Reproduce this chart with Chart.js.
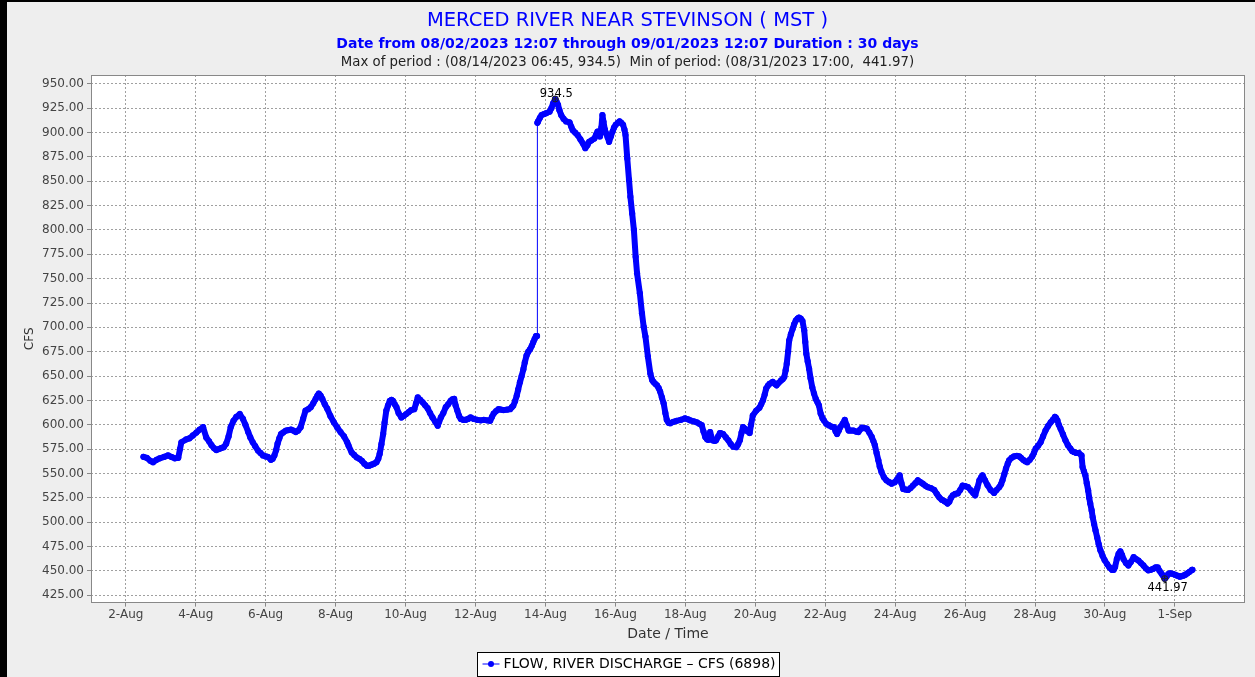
<!DOCTYPE html>
<html>
<head>
<meta charset="utf-8">
<script src="https://cdn.jsdelivr.net/npm/chart.js@4.4.0/dist/chart.umd.min.js"></script>
<style>
  html, body { margin: 0; padding: 0; background: #eeeeee; overflow: hidden; }
  #flowChart { display: block; }
</style>
</head>
<body>
<canvas id="flowChart" width="1255" height="677"></canvas>
<script>
const chartTitle = 'MERCED RIVER NEAR STEVINSON ( MST )';
const chartSubtitle = 'Date from 08/02/2023 12:07 through 09/01/2023 12:07 Duration : 30 days';
const chartStats = 'Max of period : (08/14/2023 06:45, 934.5)  Min of period: (08/31/2023 17:00,  441.97)';
const seriesLabel = 'FLOW, RIVER DISCHARGE \u2013 CFS (6898)';

// time of each reading, in days since 08/01/2023 00:00
const flowDays = [
  1.505, 1.6, 1.7, 1.78, 1.88, 1.97, 2.1, 2.21, 2.3, 2.4, 2.5, 2.55, 2.59, 2.73, 2.82, 2.92, 3.02, 3.11, 3.21, 3.3,
  3.38, 3.45, 3.52, 3.59, 3.66, 3.73, 3.8, 3.87, 3.94, 4.0, 4.08, 4.16, 4.26, 4.35, 4.42, 4.5, 4.56, 4.63, 4.7, 4.78,
  4.85, 4.92, 5.0, 5.06, 5.15, 5.2, 5.25, 5.3, 5.34, 5.39, 5.44, 5.5, 5.58, 5.65, 5.72, 5.79, 5.86, 5.93, 6.0, 6.07,
  6.14, 6.22, 6.29, 6.36, 6.43, 6.48, 6.52, 6.57, 6.62, 6.69, 6.76, 6.85, 6.95, 7.05, 7.14, 7.24, 7.33, 7.37, 7.46, 7.53,
  7.6, 7.68, 7.75, 7.82, 7.89, 7.96, 8.03, 8.1, 8.17, 8.22, 8.26, 8.31, 8.36, 8.4, 8.45, 8.5, 8.55, 8.6, 8.64, 8.69,
  8.74, 8.8, 8.88, 8.95, 9.02, 9.09, 9.16, 9.25, 9.3, 9.35, 9.42, 9.49, 9.56, 9.63, 9.7, 9.77, 9.85, 9.92, 9.96, 10.01,
  10.08, 10.15, 10.22, 10.29, 10.34, 10.39, 10.43, 10.48, 10.53, 10.58, 10.65, 10.72, 10.79, 10.86, 10.95, 11.05, 11.15, 11.24, 11.33, 11.42,
  11.47, 11.52, 11.59, 11.66, 11.73, 11.8, 11.9, 11.99, 12.04, 12.08, 12.13, 12.18, 12.22, 12.27, 12.32, 12.37, 12.41, 12.46, 12.51, 12.56,
  12.61, 12.65, 12.69, 12.73, 12.76, 12.77, 12.79, 12.84, 12.89, 12.96, 13.03, 13.12, 13.17, 13.22, 13.281, 13.32, 13.36, 13.4, 13.45, 13.52,
  13.59, 13.69, 13.74, 13.78, 13.85, 13.92, 14.0, 14.07, 14.14, 14.2, 14.25, 14.32, 14.4, 14.45, 14.49, 14.53, 14.56, 14.6, 14.63, 14.66,
  14.7, 14.73, 14.78, 14.82, 14.87, 14.92, 14.96, 15.01, 15.07, 15.12, 15.17, 15.22, 15.26, 15.29, 15.34, 15.39, 15.43, 15.48, 15.53, 15.58,
  15.62, 15.7, 15.76, 15.81, 15.86, 15.93, 16.0, 16.05, 16.09, 16.14, 16.19, 16.24, 16.28, 16.33, 16.38, 16.43, 16.47, 16.52, 16.57, 16.66,
  16.75, 16.87, 16.99, 17.08, 17.14, 17.24, 17.33, 17.4, 17.47, 17.52, 17.57, 17.62, 17.66, 17.71, 17.78, 17.84, 17.88, 17.94, 17.99, 18.04,
  18.08, 18.16, 18.23, 18.3, 18.37, 18.46, 18.51, 18.56, 18.61, 18.65, 18.7, 18.75, 18.84, 18.88, 18.93, 19.03, 19.12, 19.17, 19.22, 19.27,
  19.31, 19.36, 19.41, 19.5, 19.56, 19.61, 19.67, 19.74, 19.79, 19.83, 19.87, 19.9, 19.94, 19.97, 20.02, 20.07, 20.11, 20.16, 20.21, 20.25,
  20.3, 20.35, 20.4, 20.43, 20.46, 20.5, 20.54, 20.58, 20.63, 20.68, 20.73, 20.78, 20.82, 20.87, 20.92, 20.96, 21.03, 21.1, 21.18, 21.25,
  21.3, 21.34, 21.39, 21.43, 21.5, 21.56, 21.62, 21.67, 21.74, 21.81, 21.88, 21.95, 22.0, 22.05, 22.12, 22.19, 22.26, 22.33, 22.38, 22.42,
  22.47, 22.52, 22.56, 22.61, 22.68, 22.75, 22.83, 22.9, 22.99, 23.06, 23.13, 23.18, 23.23, 23.3, 23.37, 23.44, 23.51, 23.58, 23.65, 23.72,
  23.79, 23.86, 23.93, 24.02, 24.12, 24.19, 24.26, 24.33, 24.41, 24.5, 24.55, 24.6, 24.65, 24.72, 24.79, 24.86, 24.93, 25.0, 25.08, 25.17,
  25.23, 25.29, 25.35, 25.41, 25.46, 25.5, 25.57, 25.64, 25.73, 25.83, 25.9, 25.98, 26.03, 26.07, 26.12, 26.17, 26.22, 26.26, 26.33, 26.4,
  26.48, 26.55, 26.6, 26.66, 26.72, 26.78, 26.85, 26.92, 26.97, 27.02, 27.09, 27.16, 27.23, 27.3, 27.37, 27.45, 27.51, 27.57, 27.6, 27.64,
  27.68, 27.73, 27.8, 27.87, 27.94, 28.01, 28.06, 28.11, 28.18, 28.25, 28.33, 28.36, 28.4, 28.44, 28.48, 28.52, 28.55, 28.58, 28.62, 28.65,
  28.69, 28.73, 28.78, 28.82, 28.87, 28.93, 28.99, 29.06, 29.13, 29.2, 29.25, 29.29, 29.34, 29.39, 29.44, 29.49, 29.53, 29.6, 29.67, 29.74,
  29.82, 29.89, 29.96, 30.03, 30.1, 30.17, 30.24, 30.31, 30.38, 30.45, 30.51, 30.56, 30.62, 30.67, 30.708, 30.76, 30.81, 30.86, 30.93, 31.0,
  31.07, 31.14, 31.19, 31.24, 31.3, 31.36, 31.42, 31.49, 31.505
];

const flowCfs = [
  567, 566, 563, 561.5, 564, 565.5, 567, 568.5, 567, 565.5, 566, 575, 582, 585, 586, 589, 592, 595, 597.5, 587,
  583, 579, 576, 574, 575, 576, 577, 580.5, 588, 597.5, 604, 608, 611, 606, 600, 592.5, 587, 582, 578, 573.5,
  571, 568.5, 567.5, 567, 564, 565, 568.5, 574, 580.5, 586, 590.5, 592, 594, 594.5, 595, 594, 592.5, 594, 597.5, 606,
  614.5, 616, 618, 622, 626.5, 630, 632, 630, 626.5, 621, 616.5, 609, 602.5, 597, 592.5, 588, 582, 578.5, 571.5, 569,
  566.5, 565, 563, 560, 558, 558, 559, 560, 561.5, 565, 570, 580, 590.5, 602, 614.5, 620, 624.5, 625.5, 624.5, 621,
  618, 612, 607.5, 609, 611, 613, 615, 616, 622, 628, 625.5, 623, 620, 617, 612, 607.5, 603, 599, 603, 607.5,
  612, 618, 621, 624.5, 626, 626.5, 620, 614.5, 609, 606, 605, 605, 606, 607.5, 606, 605, 604.5, 605, 604.5, 604,
  608, 611.5, 614, 616, 615.5, 615, 615.5, 616, 618, 619.5, 624, 630, 636, 643.5, 650, 657, 664, 671, 675, 677.5,
  681, 684.5, 688, 691, 691, 910, 911.5, 915, 918, 919, 920, 921.5, 925, 930, 934.5, 931.5, 928.5, 923, 918, 914,
  911.5, 910.5, 906, 902.5, 900, 897.5, 893, 889, 884, 887, 890.5, 892, 894, 898, 901, 898, 896, 905, 918, 911,
  903, 899.5, 895, 890.5, 896, 901, 905, 908, 910, 911.5, 910, 908, 903, 897.5, 873.5, 851.5, 834, 817, 800, 772.5,
  755.5, 735, 714.5, 700.5, 690.5, 670, 652.5, 646, 644, 642, 640.5, 637.5, 634, 628, 622, 612, 605, 602, 601.5, 603,
  604, 605, 606.5, 605.5, 604.5, 603.5, 602.5, 601, 599.5, 593, 587.5, 585, 584.5, 592.5, 584, 583.5, 584, 588, 591.5, 591,
  590.5, 587, 584, 580, 577.5, 577, 580, 584, 592, 597.5, 596, 594, 591.5, 600, 609.5, 614.5, 617.5, 621, 625, 631,
  637, 640, 642, 644, 642, 640.5, 643, 645.5, 647, 649, 656, 662.5, 675, 686.5, 693, 698.5, 703, 707, 709, 710,
  709, 706.5, 697, 685, 673, 665, 657.5, 648, 638.5, 632, 626.5, 623, 620, 611.5, 607, 604.5, 601, 599.5, 598, 597.5,
  593, 590.5, 594, 597.5, 601, 605, 599, 594, 594, 594, 593, 592.5, 595, 597, 596.5, 596, 592, 587.5, 583, 579,
  571, 563.5, 557, 551.5, 546, 543, 541, 539.5, 541, 544, 548, 540, 534, 533.5, 533, 535, 537.5, 540, 543, 541,
  539.5, 537.5, 536, 535, 533, 529, 525.5, 523, 521.5, 519, 521, 525, 527.5, 529, 529.5, 533, 537.5, 537, 536, 532.5,
  530, 527.5, 535, 543, 546, 548, 543, 538, 533, 530, 533, 536, 539, 543, 549, 555, 560, 563.5, 566, 567.5,
  568, 567.5, 566, 564, 562.5, 561.5, 564, 567.5, 571, 575.5, 578.5, 582, 588, 594, 598.5, 602.5, 605, 608, 607, 604.5,
  600, 596, 590, 584, 579, 575.5, 573, 572, 571, 571, 568.5, 556.5, 552, 548, 540, 532.5, 525, 519, 512, 505,
  498, 491.5, 484, 477.5, 471, 465.5, 461, 457, 453.5, 451, 451, 454, 462, 467.5, 470, 466, 462, 458, 455.5, 459,
  464, 462, 460.5, 458, 455.5, 452.5, 450.5, 451, 452, 453.5, 453.5, 450, 447, 444.5, 441.97, 444, 446.5, 447.5, 447, 446,
  445, 444, 444.5, 445, 446, 447.5, 449, 451, 451
];

const xTickDays = [1, 3, 5, 7, 9, 11, 13, 15, 17, 19, 21, 23, 25, 27, 29, 31];
const xTickLabels = ['2-Aug', '4-Aug', '6-Aug', '8-Aug', '10-Aug', '12-Aug', '14-Aug', '16-Aug',
  '18-Aug', '20-Aug', '22-Aug', '24-Aug', '26-Aug', '28-Aug', '30-Aug', '1-Sep'];
const yTickValues = [425, 450, 475, 500, 525, 550, 575, 600, 625, 650, 675, 700,
  725, 750, 775, 800, 825, 850, 875, 900, 925, 950];
const xRange = [0.005, 33.005];
const yRange = [417.35, 959.13];

const FONT = '"DejaVu Sans", sans-serif';
const LINE_BLUE = '#0000ff';
const LINE_W = 6;

const framePlugin = {
    id: 'frame',
    beforeDraw(chart) {
        const { ctx, chartArea: a, width } = chart;
        ctx.save();
        ctx.fillStyle = '#eeeeee';
        ctx.fillRect(0, 0, width, chart.height);
        ctx.fillStyle = '#ffffff';
        ctx.fillRect(a.left, a.top, a.right - a.left, a.bottom - a.top);
        ctx.fillStyle = '#000000';
        ctx.fillRect(0, 0, width, 2);
        ctx.fillRect(0, 0, 7, chart.height);

        ctx.textAlign = 'center';
        ctx.textBaseline = 'alphabetic';
        ctx.fillStyle = LINE_BLUE;
        ctx.font = '19.5px ' + FONT;
        ctx.fillText(chartTitle, width / 2, 26);
        ctx.font = 'bold 14px ' + FONT;
        ctx.fillText(chartSubtitle, width / 2, 48);
        ctx.fillStyle = '#222222';
        ctx.font = '13.3px ' + FONT;
        ctx.fillText(chartStats, width / 2, 66);
        ctx.restore();
    },
    afterDatasetsDraw(chart) {
        // max / min markers with their values
        const { ctx, scales } = chart;
        const iMax = flowCfs.indexOf(Math.max(...flowCfs));
        const iMin = flowCfs.indexOf(Math.min(...flowCfs));
        ctx.save();
        ctx.font = '11.5px ' + FONT;
        ctx.fillStyle = '#000000';
        ctx.strokeStyle = '#222222';
        ctx.lineWidth = 1;
        ctx.textAlign = 'center';
        ctx.textBaseline = 'alphabetic';
        [[iMax, 1, -2], [iMin, 3, 12]].forEach(([i, dx, dy]) => {
            const px = scales.x.getPixelForValue(flowDays[i]);
            const py = scales.y.getPixelForValue(flowCfs[i]);
            ctx.beginPath();
            ctx.arc(px, py, 3, 0, Math.PI * 2);
            ctx.moveTo(px - 3, py);
            ctx.lineTo(px + 3, py);
            ctx.moveTo(px, py - 3);
            ctx.lineTo(px, py + 3);
            ctx.stroke();
            ctx.fillText(flowCfs[i].toString(), px + dx, py + dy);
        });
        ctx.restore();
    },
    afterDraw(chart) {
        const { ctx, chartArea: a, width, height } = chart;
        ctx.save();
        ctx.strokeStyle = '#888888';
        ctx.lineWidth = 1;
        ctx.strokeRect(Math.round(a.left) + 0.5, Math.round(a.top) + 0.5,
            Math.round(a.right - a.left) - 1, Math.round(a.bottom - a.top) - 1);

        // legend box
        ctx.font = '14px ' + FONT;
        const tw = ctx.measureText(seriesLabel).width;
        const bw = Math.round(tw + 30);
        const bx = Math.round((width - bw) / 2) + 0.5;
        const by = height - 25 + 0.5;
        const cy = by + 11.5;
        ctx.fillStyle = '#ffffff';
        ctx.fillRect(bx, by, bw, 24);
        ctx.strokeStyle = '#000000';
        ctx.strokeRect(bx, by, bw, 24);
        ctx.strokeStyle = LINE_BLUE;
        ctx.beginPath();
        ctx.moveTo(bx + 5, cy);
        ctx.lineTo(bx + 22, cy);
        ctx.stroke();
        ctx.fillStyle = LINE_BLUE;
        ctx.beginPath();
        ctx.arc(bx + 13.5, cy, 3, 0, Math.PI * 2);
        ctx.fill();
        ctx.fillStyle = '#000000';
        ctx.textAlign = 'left';
        ctx.textBaseline = 'middle';
        ctx.fillText(seriesLabel, bx + 26, cy);
        ctx.restore();
    }
};

const tickFont = { family: FONT, size: 12 };

new Chart(document.getElementById('flowChart'), {
    type: 'line',
    data: {
        datasets: [{
            label: seriesLabel,
            data: flowDays.map((d, i) => ({ x: d, y: flowCfs[i] })),
            borderColor: LINE_BLUE,
            backgroundColor: LINE_BLUE,
            borderWidth: LINE_W,
            borderJoinStyle: 'round',
            borderCapStyle: 'round',
            pointRadius: 3.1,
            pointBorderWidth: 0,
            pointHoverRadius: 0,
            tension: 0,
            fill: false,
            segment: {
                // the jump on 13-Aug is drawn as a thin connector
                borderWidth: ctx => Math.abs(ctx.p1.parsed.y - ctx.p0.parsed.y) > 100 ? 1 : LINE_W
            }
        }]
    },
    options: {
        responsive: false,
        animation: false,
        events: [],
        layout: { padding: { top: 75, right: 10, bottom: 29.4, left: 0 } },
        plugins: {
            legend: { display: false },
            tooltip: { enabled: false },
            title: { display: false }
        },
        scales: {
            x: {
                type: 'linear',
                min: xRange[0],
                max: xRange[1],
                bounds: 'data',
                afterBuildTicks: s => { s.ticks = xTickDays.map(v => ({ value: v })); },
                afterFit: s => { s.height = 45; },
                ticks: {
                    autoSkip: false,
                    maxRotation: 0,
                    padding: 1,
                    color: '#444444',
                    font: tickFont,
                    callback: (v, i) => xTickLabels[i]
                },
                grid: { color: '#a0a0a0', lineWidth: 1, tickLength: 4, tickColor: '#888888' },
                border: { display: false, dash: [2, 2] },
                title: {
                    display: true,
                    text: 'Date / Time',
                    color: '#333333',
                    font: { family: FONT, size: 14 },
                    padding: { top: 0, bottom: 5 }
                }
            },
            y: {
                type: 'linear',
                min: yRange[0],
                max: yRange[1],
                bounds: 'data',
                afterBuildTicks: s => { s.ticks = yTickValues.map(v => ({ value: v })); },
                afterFit: s => { s.width = 91; },
                ticks: {
                    padding: 3,
                    color: '#444444',
                    font: tickFont,
                    callback: v => v.toFixed(2)
                },
                grid: { color: '#a0a0a0', lineWidth: 1, tickLength: 4, tickColor: '#888888' },
                border: { display: false, dash: [2, 2] },
                title: {
                    display: true,
                    text: 'CFS',
                    color: '#333333',
                    font: { family: FONT, size: 12 },
                    padding: { top: 23, bottom: 0 }
                }
            }
        }
    },
    plugins: [framePlugin]
});
</script>
</body>
</html>
